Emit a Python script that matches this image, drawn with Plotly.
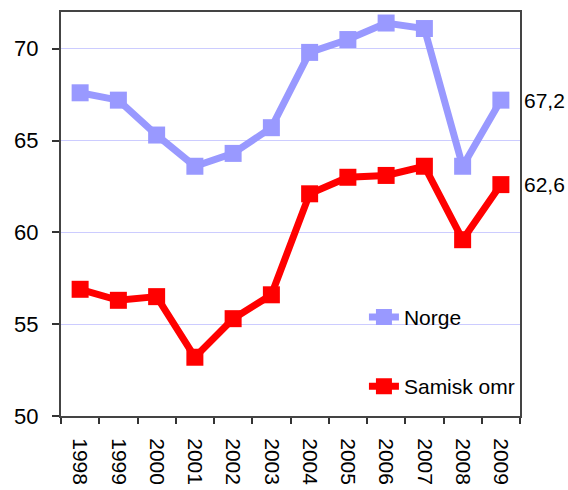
import plotly.graph_objects as go

years = ["1998", "1999", "2000", "2001", "2002", "2003", "2004", "2005", "2006", "2007", "2008", "2009"]
norge = [67.6, 67.2, 65.3, 63.6, 64.3, 65.7, 69.8, 70.5, 71.4, 71.1, 63.6, 67.2]
samisk = [56.9, 56.3, 56.5, 53.2, 55.3, 56.6, 62.1, 63.0, 63.1, 63.6, 59.6, 62.6]
series_names = ["Norge", "Samisk omr"]
end_labels = ["67,2", "62,6"]

FONT = "Liberation Sans, Arial, sans-serif"
colors = ["#9999ff", "#ff0000"]

fig = go.Figure()
for name, vals, col, grp in zip(series_names, [norge, samisk], colors, ["a", "b"]):
    fig.add_trace(go.Scatter(
        x=years, y=vals, name=name, mode="lines+markers", legendgroup=grp,
        line=dict(color=col, width=7),
        marker=dict(symbol="square", size=17, color=col),
        hoverinfo="skip",
    ))

last_idx = len(years) - 1
for vals, lab in zip([norge, samisk], end_labels):
    fig.add_annotation(x=last_idx, y=vals[-1], xref="x", yref="y", text=lab,
                       showarrow=False, xanchor="left", yanchor="middle", xshift=21,
                       font=dict(family=FONT, size=21, color="black"))

fig.update_layout(
    template="none",
    width=568, height=490,
    margin=dict(l=61, r=48, t=12, b=74, autoexpand=False),
    paper_bgcolor="white", plot_bgcolor="white",
    font=dict(family=FONT, size=21, color="black"),
    showlegend=True,
    legend=dict(x=0.66, y=0.295, xanchor="left", yanchor="top",
                bgcolor="rgba(0,0,0,0)", tracegroupgap=39,
                font=dict(family=FONT, size=21, color="black"),
                itemclick=False, itemdoubleclick=False),
    xaxis=dict(type="category", tickson="boundaries", ticks="outside", ticklen=6,
               tickcolor="#333", tickwidth=1.5, tickangle=90, automargin=False,
               ticklabelstandoff=16,
               showline=True, linecolor="#444", linewidth=2, mirror=True,
               showgrid=False, tickfont=dict(family=FONT, size=21, color="black"),
               range=[-0.5, 11.5]),
    yaxis=dict(range=[50, 72], tickvals=[50, 55, 60, 65, 70], ticks="outside", ticklen=7,
               tickcolor="#333", tickwidth=1.5, automargin=False,
               ticklabelstandoff=9,
               showline=True, linecolor="#444", linewidth=2, mirror=True,
               showgrid=True, gridcolor="#ccccff", gridwidth=1,
               zeroline=False, tickfont=dict(family=FONT, size=22, color="black")),
)

fig.write_html("out.html", config={"displayModeBar": False},
               post_script="document.body.style.margin='0';document.body.style.overflow='hidden';")
